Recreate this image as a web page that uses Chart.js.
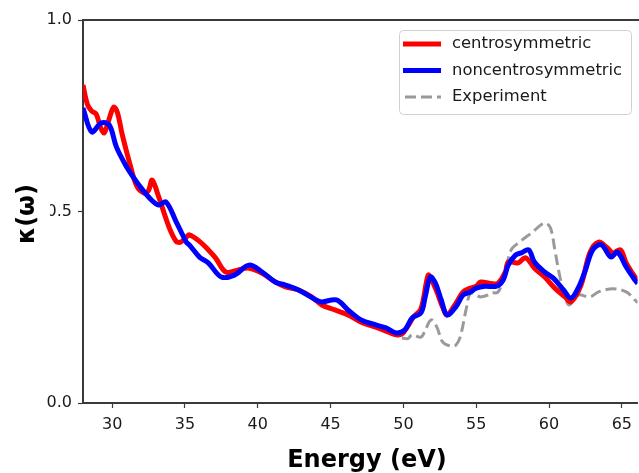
<!DOCTYPE html>
<html>
<head>
<meta charset="utf-8">
<script src="https://cdn.jsdelivr.net/npm/chart.js@4/dist/chart.umd.min.js"></script>
<style>
  html, body { margin: 0; padding: 0; background: #fff; }
  canvas { display: block; }
</style>
</head>
<body>
<canvas id="kappa" width="639" height="473"></canvas>
<script>
// Extinction coefficient spectra: photon energy (eV) vs kappa(omega)
const centroEnergy = [28.0,28.3,28.6,28.9,29.2,29.45,29.7,30.1,30.35,30.7,31.2,31.7,32.2,32.5,32.75,33.2,33.9,34.4,34.7,35.1,35.3,36.0,36.6,37.1,37.8,38.6,39.4,40.3,41.2,41.9,42.8,43.7,44.4,45.3,46.2,47.1,48.1,49.0,49.5,49.9,50.3,50.7,51.2,51.7,51.9,52.3,52.7,53.0,53.6,54.1,54.6,55.0,55.3,56.0,56.5,57.0,57.2,57.7,57.9,58.4,59.0,59.7,60.4,61.1,61.5,62.2,62.8,63.4,64.0,64.4,64.9,65.3,65.9,66.1];
const centroKappa  = [0.83,0.78,0.762,0.755,0.72,0.705,0.73,0.772,0.76,0.70,0.627,0.566,0.548,0.555,0.582,0.538,0.46,0.422,0.42,0.433,0.439,0.422,0.40,0.379,0.342,0.347,0.352,0.339,0.316,0.303,0.295,0.277,0.256,0.243,0.230,0.211,0.198,0.185,0.178,0.18,0.20,0.225,0.245,0.334,0.325,0.29,0.25,0.23,0.26,0.29,0.30,0.305,0.316,0.312,0.313,0.342,0.368,0.366,0.366,0.379,0.352,0.329,0.300,0.277,0.264,0.308,0.392,0.420,0.405,0.392,0.400,0.366,0.329,0.32];

const noncentroEnergy = [28.0,28.6,29.25,29.8,30.3,31.0,31.5,32.0,32.7,33.2,33.7,34.4,35.1,35.3,36.0,36.6,37.5,38.4,39.4,40.3,41.2,41.9,42.8,44.0,44.4,45.4,46.2,47.1,48.1,48.8,49.5,50.1,50.6,51.2,51.5,51.85,52.2,52.6,53.0,53.6,54.1,54.6,55.0,55.6,56.4,56.85,57.2,57.7,58.1,58.6,59.0,59.7,60.3,61.0,61.5,62.0,62.5,63.0,63.6,64.25,64.7,65.3,65.9,66.1];
const noncentroKappa  = [0.77,0.708,0.731,0.726,0.668,0.616,0.587,0.561,0.530,0.517,0.525,0.473,0.420,0.413,0.381,0.366,0.329,0.334,0.360,0.342,0.316,0.308,0.295,0.269,0.264,0.269,0.243,0.217,0.204,0.196,0.183,0.191,0.222,0.235,0.277,0.329,0.313,0.269,0.230,0.251,0.282,0.290,0.300,0.305,0.305,0.321,0.360,0.386,0.392,0.400,0.368,0.342,0.326,0.295,0.274,0.300,0.347,0.400,0.413,0.381,0.394,0.355,0.321,0.312];

const expEnergy = [49.9,50.3,50.6,51.2,51.5,51.9,52.3,52.7,53.3,53.6,53.9,54.3,54.6,55.0,55.3,55.8,56.0,56.5,56.9,57.4,57.9,58.8,59.7,60.1,60.4,60.75,61.16,61.4,62.0,62.8,63.4,64.4,65.3,65.9,66.1];
const expKappa  = [0.170,0.168,0.178,0.172,0.19,0.217,0.198,0.159,0.148,0.151,0.172,0.243,0.287,0.282,0.277,0.282,0.287,0.29,0.329,0.400,0.418,0.444,0.470,0.457,0.400,0.329,0.269,0.256,0.282,0.277,0.290,0.298,0.290,0.269,0.262];

const energyTicks = [30, 35, 40, 45, 50, 55, 60, 65];
const kappaTicks = [0.0, 0.5, 1.0];

const seriesLabels = ['centrosymmetric', 'noncentrosymmetric', 'Experiment'];
const xTitle = 'Energy (eV)';
const yTitle = 'κ(ω)';

const FONT = "'DejaVu Sans', 'Liberation Sans', sans-serif";
const SPINE = '#3a3a3a';

const toPoints = (xs, ys) => xs.map((x, i) => ({ x: x, y: ys[i] }));

// Top spine, boxed legend and the axis titles
const decorations = {
  id: 'decorations',
  afterDraw(chart) {
    const ctx = chart.ctx;
    const area = chart.chartArea;
    ctx.save();

    // top spine
    ctx.strokeStyle = SPINE;
    ctx.lineWidth = 2;
    ctx.beginPath();
    ctx.moveTo(area.left - 1, area.top);
    ctx.lineTo(chart.width, area.top);
    ctx.stroke();

    // x title
    ctx.fillStyle = '#000';
    ctx.font = 'bold 24px ' + FONT;
    ctx.textAlign = 'center';
    ctx.textBaseline = 'alphabetic';
    ctx.fillText(xTitle, 367, 467);

    // y title on a white backing
    ctx.fillStyle = '#fff';
    ctx.fillRect(6, 180, 44, 70);
    ctx.translate(28, 214);
    ctx.rotate(-Math.PI / 2);
    ctx.fillStyle = '#000';
    ctx.textBaseline = 'middle';
    ctx.fillText(yTitle, 0, 0);
    ctx.setTransform(1, 0, 0, 1, 0, 0);

    // legend box
    const bx = 399.5, by = 30.5, bw = 232, bh = 84, r = 4;
    ctx.fillStyle = 'rgba(255,255,255,0.85)';
    ctx.strokeStyle = '#d0d0d0';
    ctx.lineWidth = 1;
    ctx.beginPath();
    ctx.moveTo(bx + r, by);
    ctx.lineTo(bx + bw - r, by);
    ctx.quadraticCurveTo(bx + bw, by, bx + bw, by + r);
    ctx.lineTo(bx + bw, by + bh - r);
    ctx.quadraticCurveTo(bx + bw, by + bh, bx + bw - r, by + bh);
    ctx.lineTo(bx + r, by + bh);
    ctx.quadraticCurveTo(bx, by + bh, bx, by + bh - r);
    ctx.lineTo(bx, by + r);
    ctx.quadraticCurveTo(bx, by, bx + r, by);
    ctx.closePath();
    ctx.fill();
    ctx.stroke();

    const rows = [44, 70.5, 97];
    chart.data.datasets.forEach((ds, i) => {
      const y = rows[i];
      ctx.strokeStyle = ds.borderColor;
      ctx.lineWidth = ds.legendWidth;
      ctx.setLineDash(ds.borderDash || []);
      ctx.lineCap = 'butt';
      ctx.beginPath();
      ctx.moveTo(ds.borderDash ? 405 : 403, y);
      ctx.lineTo(441, y);
      ctx.stroke();
      ctx.setLineDash([]);
      ctx.fillStyle = '#1a1a1a';
      ctx.font = '16.4px ' + FONT;
      ctx.textAlign = 'left';
      ctx.textBaseline = 'middle';
      ctx.fillText(ds.label, 452, y);
    });
    ctx.restore();
  }
};

new Chart(document.getElementById('kappa'), {
  type: 'line',
  data: {
    datasets: [
      {
        label: seriesLabels[0],
        data: toPoints(centroEnergy, centroKappa),
        borderColor: '#ff0000',
        borderWidth: 5,
        legendWidth: 5,
        tension: 0.35,
        pointRadius: 0,
        order: 2
      },
      {
        label: seriesLabels[1],
        data: toPoints(noncentroEnergy, noncentroKappa),
        borderColor: '#0000ff',
        borderWidth: 5,
        legendWidth: 5,
        tension: 0.35,
        pointRadius: 0,
        order: 1
      },
      {
        label: seriesLabels[2],
        data: toPoints(expEnergy, expKappa),
        borderColor: '#9a9a9a',
        borderWidth: 3,
        legendWidth: 3,
        borderDash: [11, 5],
        tension: 0.35,
        pointRadius: 0,
        order: 3
      }
    ]
  },
  options: {
    responsive: false,
    animation: false,
    devicePixelRatio: 1,
    layout: { padding: { top: 20, right: 0, bottom: 0, left: 0 } },
    plugins: {
      legend: { display: false },
      tooltip: { enabled: false }
    },
    scales: {
      x: {
        type: 'linear',
        min: 28,
        max: 66.08,
        afterFit(scale) { scale.height = 70; },
        afterBuildTicks(scale) { scale.ticks = energyTicks.map(v => ({ value: v })); },
        grid: { drawOnChartArea: false, drawTicks: true, tickLength: 5, tickWidth: 1.2, tickColor: SPINE },
        border: { display: true, color: SPINE, width: 2 },
        ticks: {
          color: '#1a1a1a',
          font: { family: FONT, size: 16 },
          padding: 7,
          maxRotation: 0,
          callback: v => String(v)
        }
      },
      y: {
        type: 'linear',
        min: 0,
        max: 1,
        afterFit(scale) { scale.width = 83; },
        afterBuildTicks(scale) { scale.ticks = kappaTicks.map(v => ({ value: v })); },
        grid: { drawOnChartArea: false, drawTicks: true, tickLength: 5, tickWidth: 1.2, tickColor: SPINE },
        border: { display: true, color: SPINE, width: 2 },
        ticks: {
          color: '#1a1a1a',
          font: { family: FONT, size: 16 },
          padding: 6,
          callback: v => Number(v).toFixed(1)
        }
      }
    }
  },
  plugins: [decorations]
});
</script>
</body>
</html>
